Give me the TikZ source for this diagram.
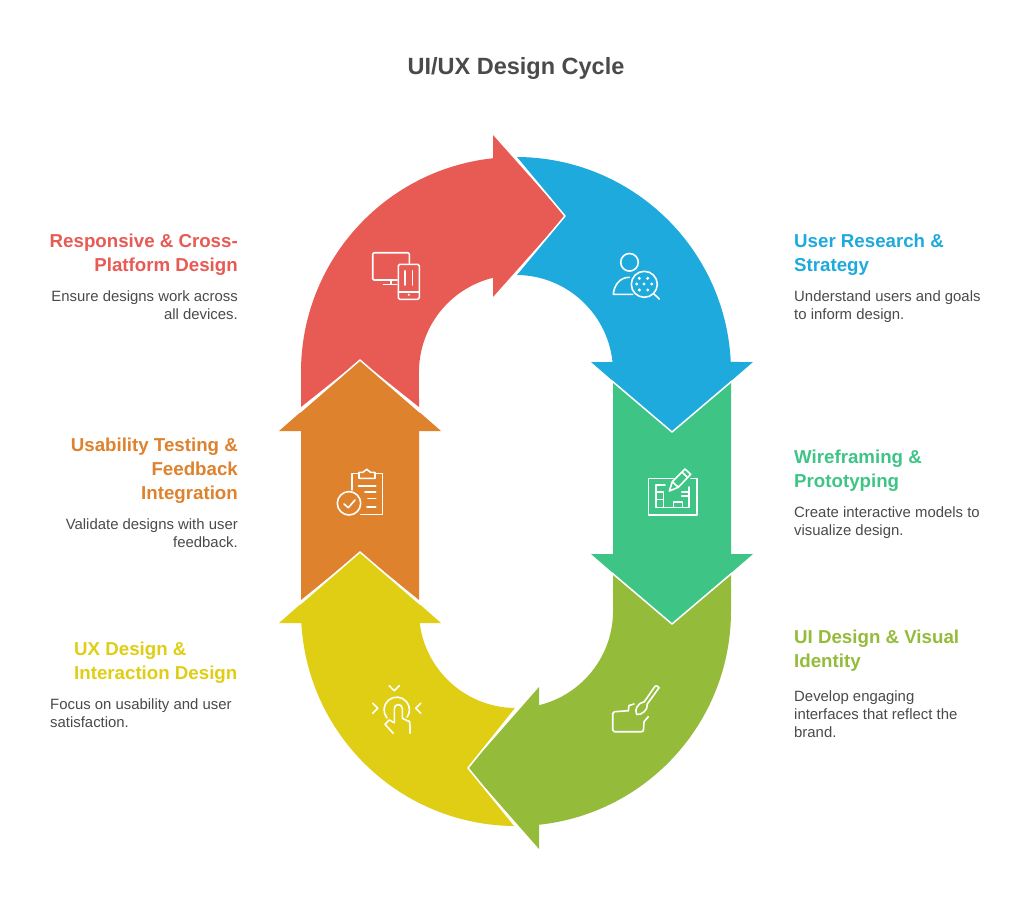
\documentclass[tikz,border=0pt]{standalone}
\usepackage{fontspec}
\setmainfont{Liberation Sans}
\definecolor{cRed}{HTML}{E85A54}
\definecolor{cBlue}{HTML}{1EAADC}
\definecolor{cTeal}{HTML}{3EC586}
\definecolor{cGreen}{HTML}{94BC3A}
\definecolor{cYellow}{HTML}{DFCE14}
\definecolor{cOrange}{HTML}{DE822E}
\definecolor{cText}{HTML}{4A4A4A}
\tikzset{
  edge/.style={draw=white,line width=1.5pt,line join=round},
  ico/.style={draw=white,line width=1.6pt,line cap=round,line join=round},
  head/.style={font=\fontsize{18.7}{24}\selectfont\bfseries,inner sep=0pt},
  bodyR/.style={font=\fontsize{14.9}{18}\selectfont,text=cText,inner sep=0pt,anchor=north east,align=right},
  bodyL/.style={font=\fontsize{14.9}{18}\selectfont,text=cText,inner sep=0pt,anchor=north west,align=left},
  headR/.style={head,anchor=north east,align=right},
  headL/.style={head,anchor=north west,align=left},
}
\begin{document}
\begin{tikzpicture}[x=1pt,y=-1pt]
\useasboundingbox[fill=white] (0,0) rectangle (1032,913);
% arrows
\fill[cRed] (301,407)--(301,372) arc[start angle=180,end angle=263.86,radius=215] --(493,135)--(565,216)--(493,297)--(493,277.8) arc[start angle=256.3,end angle=180,radius=97] --(419,407)--(360,360)--cycle;
\fill[cBlue] (516,157) arc[start angle=270,end angle=357.33,radius=215] --(753,362)--(672,432)--(591,362)--(612.5,362) arc[start angle=354.1,end angle=270,radius=97] --(565,216)--cycle;
\fill[cTeal] (613,382)--(613,554)--(591,554)--(672,624)--(753,554)--(731,554)--(731,382)--(672,432)--cycle;
\fill[cGreen] (613,575)--(672,624)--(731,575)--(731,611) arc[start angle=0,end angle=83.86,radius=215] --(539,849)--(468,768)--(539,687)--(539,705.2) arc[start angle=76.3,end angle=0,radius=97] --cycle;
\fill[cYellow] (516,826) arc[start angle=90,end angle=176.8,radius=215] --(279,623)--(360,552)--(441,623)--(419.7,623) arc[start angle=172.9,end angle=90,radius=97] --(468,768)--cycle;
\fill[cOrange] (301,600)--(301,431)--(279,431)--(360,360)--(441,431)--(419,431)--(419,600)--(360,552)--cycle;
% white seams
\draw[edge] (515,156)--(565,216)--(515,276);
\draw[edge] (612,381)--(672,432)--(732,381);
\draw[edge] (612,573)--(672,624)--(732,573);
\draw[edge] (516,708)--(468,768)--(516,827);
\draw[edge] (300,604)--(360,552)--(420,604);
\draw[edge] (300,412)--(360,360)--(420,412);
% monitor + phone
\draw[ico] (409.3,263.3)--(409.3,254) to[out=90,in=0] (408,252.7)--(374,252.7) to[out=180,in=90] (372.7,254)--(372.7,278.7) to[out=-90,in=180] (374,280)--(397.3,280);
\draw[ico] (391,280)--(391,284) (383.5,284.3)--(396.7,284.3);
\draw[ico,rounded corners=1.5pt] (398.3,264.3) rectangle (419.3,299.3);
\draw[ico] (405,270.7)--(405,285) (412.3,270.7)--(412.3,285) (398.3,291.7)--(419.3,291.7);
\fill[white] (408.8,294.8) circle[radius=1.2];
% user + magnifier
\draw[ico] (629.5,262.3) circle[radius=8.8];
\draw[ico] (629.3,277.3) .. controls (620,277.3) and (614,285) .. (613.3,294.3)--(632.7,294.3);
\draw[ico] (644.3,284.3) circle[radius=13];
\draw[ico] (653.6,293.6)--(659.3,299);
\foreach \p in {(639.3,278.3),(647.7,278.3),(636.7,284),(644,284),(651.7,284),(639.3,290),(647.7,290)}
  \fill[white] \p circle[radius=1.7];
% clipboard
\draw[ico] (351.7,490)--(351.7,473.3)--(359,473.3) (375,473.3)--(382.3,473.3)--(382.3,514.3)--(360.7,514.3);
\draw[ico] (359,478.3)--(375,478.3)--(375,472.3)--(370.5,472.3)--(366.7,469.3)--(363,472.3)--(359,472.3)--cycle;
\draw[ico] (358.5,485.7)--(375.7,485.7) (365,491.7)--(375.7,491.7) (368,498.3)--(375.7,498.3) (367,506.7)--(375.7,506.7);
\draw[ico] (349,503.3) circle[radius=11.7];
\draw[ico] (344,504)--(348.3,507.7)--(355,500);
% wireframe + pencil
\draw[ico] (673.3,478.3)--(648.3,478.3)--(648.3,515)--(696.7,515)--(696.7,478.3)--(691,478.3);
\draw[ico] (665,485)--(655.7,485)--(655.7,507.3)--(688.7,507.3)--(688.7,487);
\draw[ico] (655.7,491.7)--(663.3,491.7)--(663.3,507.3) (655.7,499.3)--(663.3,499.3);
\draw[ico] (673.3,507.3)--(673.3,501.7)--(682.3,501.7)--(682.3,507.3) (681.7,491.7)--(688.7,491.7) (681.7,496)--(688.7,496);
\draw[ico] (669.3,491)--(672.3,481.7)--(685,469)--(690.7,474.3)--(678.3,487.3)--cycle (672.3,481.7)--(678.3,487.3) (682,472)--(687.5,477.5);
% brush in hand
\draw[ico] (628.3,710.7)--(614.5,711.7) to[out=180,in=90] (612.7,713.5)--(612.7,730) to[out=-90,in=180] (614.5,731.7)--(641.5,731.7) to[out=0,in=-90] (643.5,729.5)--(644,721.7)--(648.3,716.7);
\draw[ico] (628.3,710.7)--(629,705.5)--(634,704);
\draw[ico] (655,686.3)--(644.3,701.7) (659,687.7)--(647.3,704);
\draw[ico] (655,686.3) to[out=50,in=120] (659,687.7);
\draw[ico] (644.3,701.7) .. controls (638,703) and (634,709) .. (636.7,714.5) .. controls (642,715) and (648,710) .. (647.3,704);
% tap
\draw[ico] (389.3,685.7)--(394.3,690.7)--(399.3,685.7);
\draw[ico] (372.7,703.3)--(377.7,708.3)--(372.7,713.3);
\draw[ico] (420.7,703.3)--(415.7,708.3)--(420.7,713.3);
\draw[ico] (387,718) arc[start angle=140,end angle=395,radius=12.7];
\draw[ico] (394.3,722.7)--(394.3,708.5) arc[start angle=180,end angle=360,radius=4]--(402.3,718.3)--(408,721) to[out=30,in=90] (410,726)--(410,733.3);
\draw[ico] (394.3,722.7)--(389.3,720)--(385,724.3)--(393.3,733.3);
% title
\node[inner sep=0pt,font=\fontsize{23.5}{28}\selectfont\bfseries,text=cText] (title) at (516,68) {UI/UX Design Cycle};
% left texts
\node[headR,text=cRed] (h1) at (238,233.5) {Responsive \& Cross-\\Platform Design};
\node[bodyR] (b1) at (238,290.5) {Ensure designs work across\\all devices.};
\node[headR,text=cOrange] (h2) at (238,437.5) {Usability Testing \&\\Feedback\\Integration};
\node[bodyR] (b2) at (238,518.5) {Validate designs with user\\feedback.};
\node[headL,text=cYellow] (h3) at (74,641.5) {UX Design \&\\Interaction Design};
\node[bodyL] (b3) at (50,698.5) {Focus on usability and user\\satisfaction.};
% right texts
\node[headL,text=cBlue] (h4) at (794,233.5) {User Research \&\\Strategy};
\node[bodyL] (b4) at (794,290.5) {Understand users and goals\\to inform design.};
\node[headL,text=cTeal] (h5) at (794,449.5) {Wireframing \&\\Prototyping};
\node[bodyL] (b5) at (794,506.5) {Create interactive models to\\visualize design.};
\node[headL,text=cGreen] (h6) at (794,629.5) {UI Design \& Visual\\Identity};
\node[bodyL] (b6) at (794,690.5) {Develop engaging\\interfaces that reflect the\\brand.};
\end{tikzpicture}
\end{document}
